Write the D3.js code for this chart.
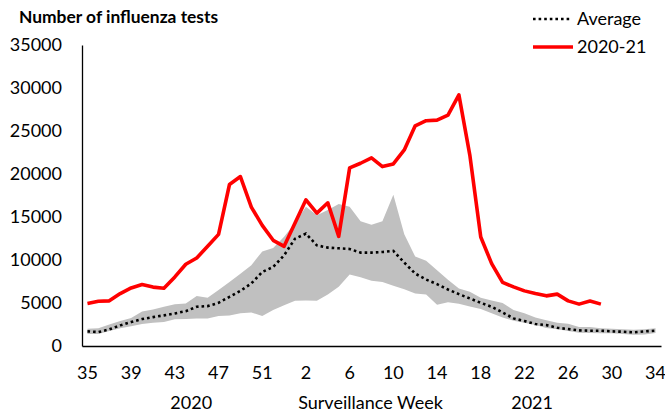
<!DOCTYPE html>
<html><head><meta charset="utf-8">
<script src="https://cdn.jsdelivr.net/npm/d3@7"></script>
<style>
body{margin:0;background:#fff}
svg{display:block}
text{font-family:Lato,"Open Sans",sans-serif;fill:#000}
</style>
</head><body>
<svg id="chart" width="665" height="414"></svg>
<script>
// Surveillance weeks: 2020 weeks 35-53, then 2021 weeks 1-34
const weeks = [35,36,37,38,39,40,41,42,43,44,45,46,47,48,49,50,51,52,53,
  1,2,3,4,5,6,7,8,9,10,11,12,13,14,15,16,17,18,19,20,21,22,23,24,25,26,27,28,29,30,31,32,33,34];
const tickWeeks = [35,39,43,47,51,2,6,10,14,18,22,26,30,34];
const yTicks = [0,5000,10000,15000,20000,25000,30000,35000];

const season2020_21 = [4950,5200,5250,6100,6750,7150,6850,6720,8030,9500,10230,11590,12980,18780,19700,16150,14020,12290,11590,
  14300,17000,15450,16650,12750,20710,21250,21870,20860,21170,22800,25600,26200,26270,26850,29200,22200,12670,9580,7400,6870,6410,6100,5830,6030,5250,4870,5220,4870];
const average = [1700,1620,1930,2400,2780,3130,3360,3560,3790,4050,4560,4640,5020,5720,6410,7270,8610,9190,10550,
  12480,13060,11700,11440,11360,11280,10860,10860,10930,11050,9700,8420,7730,7190,6570,6030,5530,5020,4560,3900,3210,2900,2550,2430,2120,1970,1820,1780,1780,1700,1660,1590,1700,1780];
const rangeMax = [2000,2050,2500,2900,3250,4000,4250,4550,4850,4950,5800,5600,6500,7450,8400,9400,11000,11400,12700,
  14300,16200,15200,15800,16500,16200,14500,14100,14500,17600,13000,10400,9900,8800,7700,6700,6300,5600,5300,5000,4200,3800,3300,3000,2700,2600,2200,2200,2050,2000,1950,1900,1950,2050];
const rangeMin = [1400,1400,1750,2050,2300,2550,2700,2800,3100,3150,3200,3200,3500,3550,3800,3900,3500,4200,4750,
  5250,5300,5250,6000,6900,8300,8000,7600,7450,7000,6600,6100,6000,4800,5100,4900,4600,4300,3800,3300,2950,2700,2450,2100,1950,1750,1550,1500,1480,1470,1400,1300,1350,1500];

const svg = d3.select("#chart");
const x = d3.scaleBand().domain(d3.range(weeks.length)).range([82, 661]);
const cx = i => x.range()[0] + x.step() * (i + 0.5);
const y = d3.scaleLinear().domain([0, 35000]).range([346, 45]);

// range band
const area = d3.area().x((d,i)=>cx(i)).y0((d,i)=>y(rangeMin[i])).y1((d,i)=>y(rangeMax[i]));
svg.append("path").datum(rangeMax).attr("d", area).attr("fill", "#c0c0c0");

// average dotted
const line = d3.line().x((d,i)=>cx(i)).y(d=>y(d));
svg.append("path").datum(average).attr("d", line)
  .attr("fill","none").attr("stroke","#000").attr("stroke-width",2.6)
  .attr("stroke-dasharray","2.6,3").attr("stroke-linecap","butt");

// 2020-21 line
svg.append("path").datum(season2020_21).attr("d", line)
  .attr("fill","none").attr("stroke","#ff0000").attr("stroke-width",3.6)
  .attr("stroke-linejoin","round");

// axes
const xAxis = d3.axisBottom(x)
  .tickValues(d3.range(weeks.length).filter(i => tickWeeks.includes(weeks[i])))
  .tickFormat(i => weeks[i]).tickSize(0).tickPadding(20);
const gx = svg.append("g").attr("transform","translate(0,346)").call(xAxis);
gx.select(".domain").attr("stroke","#000").attr("stroke-width",1.3);
gx.selectAll("text").attr("font-size",18).attr("font-family","Lato");

const yAxis = d3.axisLeft(y).tickValues(yTicks).tickFormat(d3.format("d")).tickSize(0).tickPadding(20);
const gy = svg.append("g").attr("transform","translate(82,0)").call(yAxis);
gy.select(".domain").attr("stroke","#000").attr("stroke-width",1.3);
gy.selectAll("text").attr("font-size",18).attr("font-family","Lato");

// axis titles
svg.append("text").attr("x",cx(9.5)).attr("y",409).attr("text-anchor","middle").attr("font-size",18).text("2020");
svg.append("text").attr("x",370.5).attr("y",409).attr("text-anchor","middle").attr("font-size",18).text("Surveillance Week");
svg.append("text").attr("x",cx(40.7)).attr("y",409).attr("text-anchor","middle").attr("font-size",18).text("2021");

// title
svg.append("text").attr("x",19).attr("y",23).attr("font-size",17.4).attr("font-weight","bold").text("Number of influenza tests");

// legend
const lg = svg.append("g");
lg.append("line").attr("x1",533).attr("x2",571).attr("y1",19).attr("y2",19)
  .attr("stroke","#000").attr("stroke-width",2.6).attr("stroke-dasharray","2.6,3");
lg.append("text").attr("x",577).attr("y",25).attr("font-size",18).text("Average");
lg.append("line").attr("x1",533).attr("x2",573).attr("y1",47).attr("y2",47)
  .attr("stroke","#ff0000").attr("stroke-width",3.6);
lg.append("text").attr("x",577).attr("y",53).attr("font-size",18).text("2020-21");
</script>
</body></html>
